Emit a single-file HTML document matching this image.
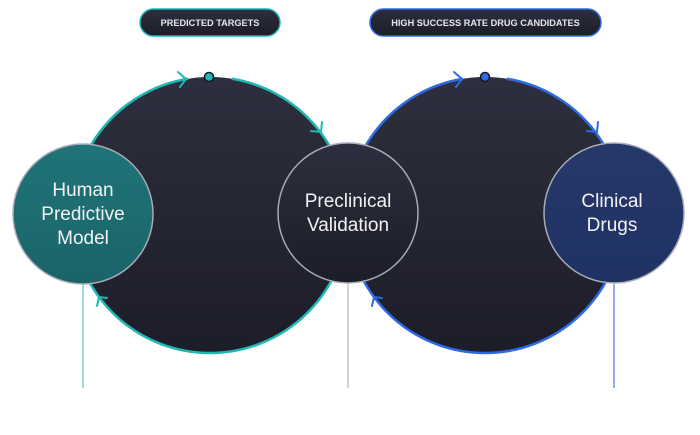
<!DOCTYPE html>
<html><head><meta charset="utf-8"><style>
body{margin:0;background:#fff;width:700px;height:435px;overflow:hidden}
svg{display:block}
text{font-family:"Liberation Sans",sans-serif}
</style></head><body>
<svg width="700" height="435" viewBox="0 0 700 435">
<defs>
<linearGradient id="dk" x1="0" y1="0" x2="0" y2="1"><stop offset="0" stop-color="#2e2f3e"/><stop offset="1" stop-color="#1c1d28"/></linearGradient>
<linearGradient id="tl" x1="0" y1="0" x2="0" y2="1"><stop offset="0" stop-color="#1f7478"/><stop offset="1" stop-color="#1a6468"/></linearGradient>
<linearGradient id="bl" x1="0" y1="0" x2="0" y2="1"><stop offset="0" stop-color="#27386a"/><stop offset="1" stop-color="#1f3264"/></linearGradient>
</defs>
<rect x="140" y="9" width="140" height="27" rx="13.5" fill="url(#dk)" stroke="#1fb3b3" stroke-width="1.5"/>
<text x="210" y="26" font-size="9.2" font-weight="bold" fill="#e6e6ea" text-anchor="middle">PREDICTED TARGETS</text>
<rect x="370" y="9" width="231" height="27" rx="13.5" fill="url(#dk)" stroke="#2f6be0" stroke-width="1.5"/>
<text x="485.5" y="26" font-size="9.2" font-weight="bold" fill="#e6e6ea" text-anchor="middle">HIGH SUCCESS RATE DRUG CANDIDATES</text>
<circle cx="210" cy="215" r="138" fill="url(#dk)" stroke="#1fb8b5" stroke-width="2.5" stroke-dasharray="628 44 200"/>
<circle cx="485" cy="215" r="138" fill="url(#dk)" stroke="#2e6ae6" stroke-width="2.5" stroke-dasharray="628 44 200"/>
<circle cx="209" cy="77" r="4.5" fill="#1fb8b5" stroke="#15161f" stroke-width="1.5"/>
<circle cx="485" cy="77" r="4.5" fill="#2e6ae6" stroke="#15161f" stroke-width="1.5"/>
<g fill="none" stroke-width="2" stroke-linecap="round">
<polyline points="178,72 186,79 180,87" stroke="#1fb8b5"/>
<polyline points="311,131 321,132 322,122" stroke="#1fb8b5"/>
<polyline points="97,306 99,297 107,298" stroke="#1fb8b5"/>
<polyline points="454,72 462,79 456,87" stroke="#2e6ae6"/>
<polyline points="587,131 597,132 598,122" stroke="#2e6ae6"/>
<polyline points="372,306 374,297 382,298" stroke="#2e6ae6"/>
</g>
<line x1="83" y1="284" x2="83" y2="388" stroke="#5fc8c6" stroke-width="1.2"/>
<line x1="348" y1="284" x2="348" y2="388" stroke="#b0b6c8" stroke-width="1.2"/>
<line x1="614" y1="284" x2="614" y2="388" stroke="#4a78e0" stroke-width="1.2"/>
<circle cx="83" cy="214" r="70" fill="url(#tl)" stroke="#a8acb8" stroke-width="1.5"/>
<circle cx="348" cy="213" r="70" fill="url(#dk)" stroke="#a8acb8" stroke-width="1.5"/>
<circle cx="614" cy="213" r="70" fill="url(#bl)" stroke="#a8acb8" stroke-width="1.5"/>
<g font-size="19" fill="#f2f2f4" text-anchor="middle">
<text x="83" y="196">Human</text><text x="83" y="220">Predictive</text><text x="83" y="244">Model</text>
<text x="348" y="207">Preclinical</text><text x="348" y="231">Validation</text>
<text x="612" y="207">Clinical</text><text x="612" y="231">Drugs</text>
</g>
</svg>
</body></html>
